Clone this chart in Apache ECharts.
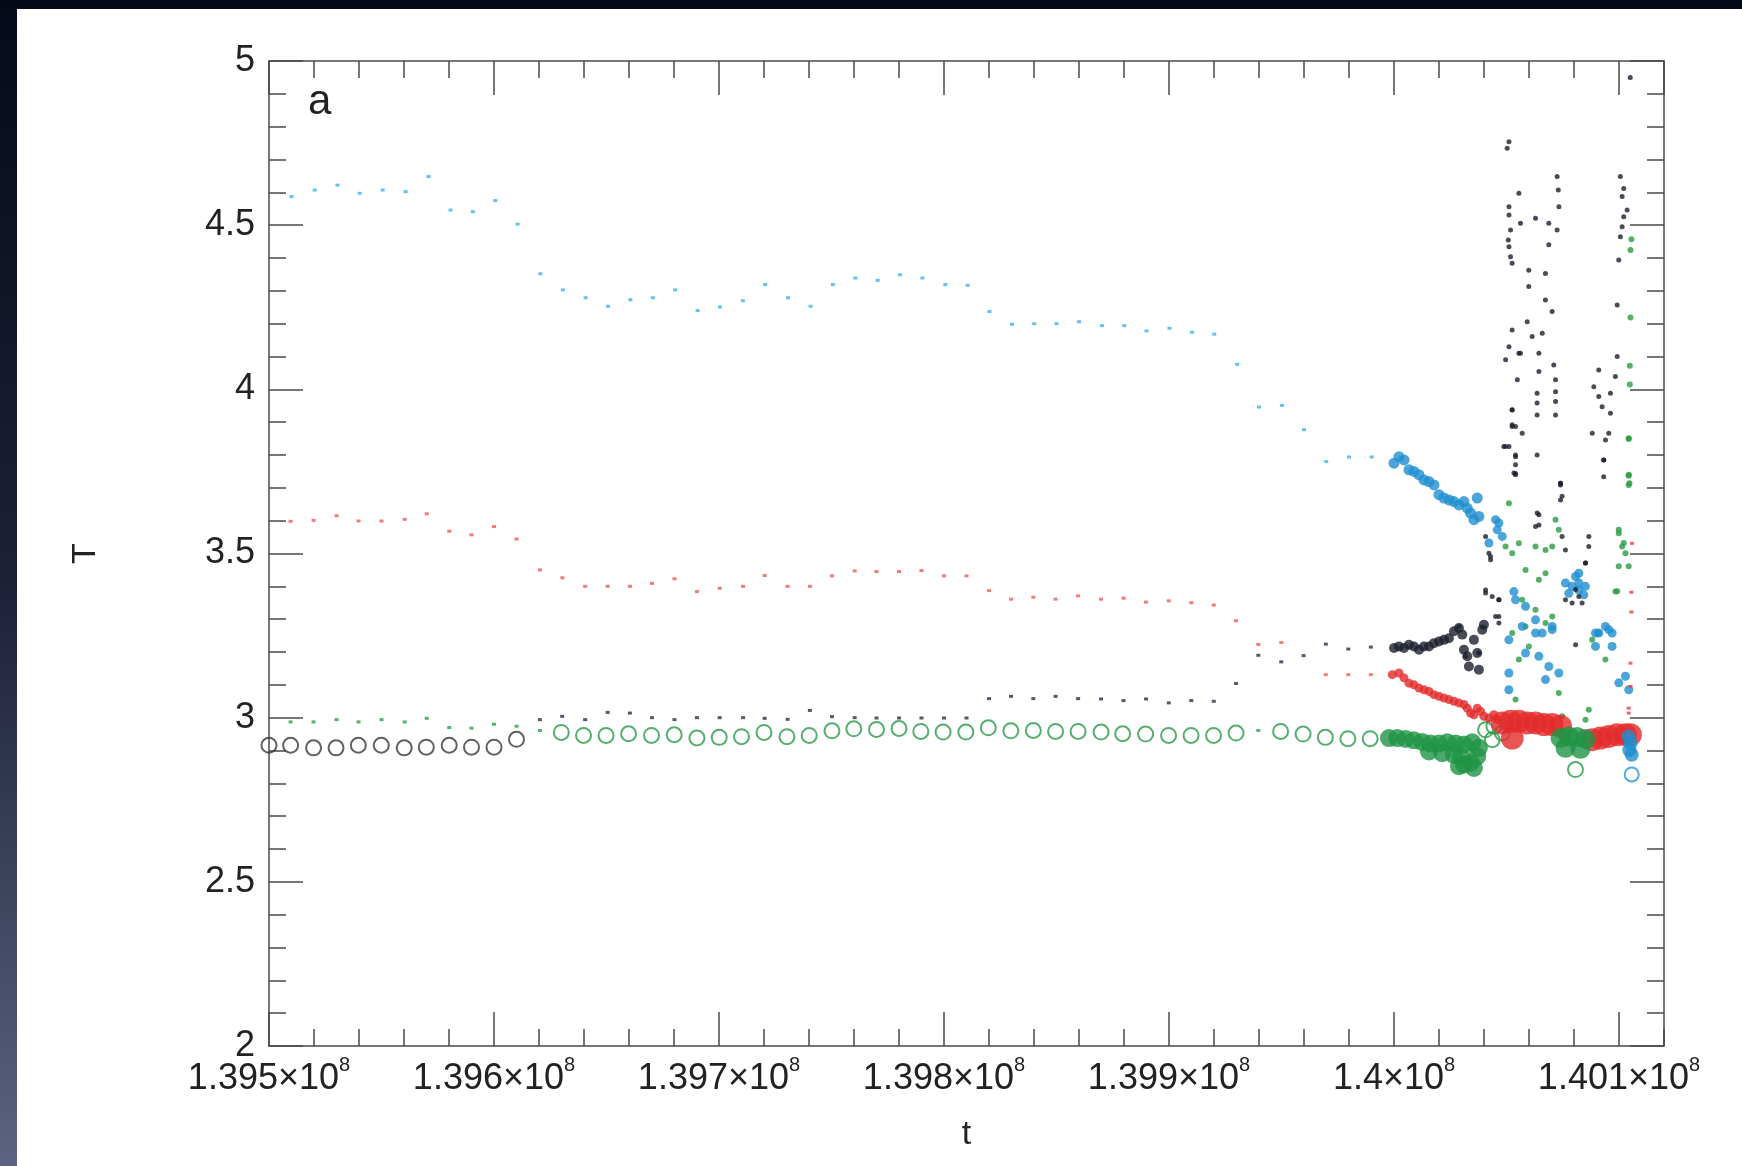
<!DOCTYPE html>
<html>
<head>
<meta charset="utf-8">
<title>T vs t</title>
<script src="https://cdn.jsdelivr.net/npm/echarts@6/dist/echarts.min.js"></script>
<style>
  html, body { margin: 0; padding: 0; background: #fff; }
  #chart { width: 1742px; height: 1166px; }
</style>
</head>
<body>
<div id="chart"></div>
<script>
const T0 = 139500000;

// sparse early samples
const blueSparse = [[10000,4.587],[20300,4.607],[30400,4.622],[40300,4.597],[50500,4.607],[60700,4.602],[70900,4.648],[80700,4.546],[90600,4.541],[100600,4.575],[110500,4.503],[120600,4.352],[130600,4.303],[140700,4.279],[150700,4.253],[160600,4.273],[170600,4.279],[180500,4.303],[190500,4.240],[200400,4.251],[210600,4.270],[220500,4.319],[230700,4.279],[240700,4.253],[250600,4.319],[260600,4.339],[270500,4.332],[280400,4.349],[290400,4.339],[300600,4.319],[310500,4.317],[320200,4.237],[330200,4.198],[340100,4.200],[350000,4.200],[360000,4.206],[370200,4.194],[380100,4.194],[390000,4.178],[400200,4.186],[410200,4.174],[420100,4.168],[430300,4.076],[440000,3.946],[450200,3.951],[460000,3.877],[469900,3.780],[480000,3.794],[490100,3.794]];
const redSparse = [[9600,3.598],[19800,3.601],[30000,3.615],[39800,3.599],[50000,3.599],[60300,3.604],[70100,3.621],[80100,3.568],[90000,3.557],[100000,3.582],[110000,3.544],[120400,3.450],[130400,3.426],[140500,3.400],[150500,3.400],[160400,3.400],[170200,3.409],[180200,3.423],[190200,3.384],[200300,3.394],[210700,3.400],[220300,3.433],[230500,3.400],[240400,3.400],[250200,3.432],[260300,3.447],[270000,3.445],[280000,3.445],[290000,3.448],[300000,3.432],[310000,3.432],[320000,3.387],[329800,3.361],[339700,3.367],[349600,3.361],[359600,3.371],[369800,3.361],[379800,3.364],[389800,3.352],[399900,3.356],[409900,3.350],[419900,3.343],[429800,3.295],[439700,3.223],[449900,3.229],[469700,3.131],[479700,3.131],[489700,3.131]];
const blackSparse = [[120400,2.994],[130300,3.004],[140500,2.994],[150500,3.016],[160400,3.014],[170200,3.000],[180200,2.994],[190200,3.000],[200300,3.000],[210700,3.000],[220300,2.998],[230500,2.995],[240400,3.022],[250200,3.003],[260300,3.000],[270000,2.999],[280000,2.999],[290000,2.999],[300000,2.999],[310000,2.999],[320000,3.058],[329800,3.065],[339700,3.058],[349600,3.065],[359600,3.058],[369800,3.057],[379800,3.052],[389800,3.057],[399900,3.045],[409900,3.052],[419900,3.050],[429800,3.104],[439700,3.190],[449900,3.170],[459800,3.189],[469700,3.224],[479700,3.209],[489700,3.215]];
const greenSparse = [[9600,2.987],[19800,2.987],[30000,2.994],[39800,2.987],[50000,2.994],[60300,2.987],[70100,2.998],[80100,2.970],[90000,2.968],[100000,2.980],[110000,2.974],[120400,2.961],[439700,2.961]];

// open circles
const blackRings = [[0,2.916],[9600,2.916],[19800,2.908],[29800,2.908],[39700,2.916],[49900,2.916],[60100,2.908],[69900,2.910],[80100,2.916],[90000,2.910],[100000,2.910],[110000,2.934]];
const greenRings = [[129900,2.955],[139800,2.946],[149800,2.946],[159800,2.951],[170000,2.946],[180100,2.948],[190200,2.938],[200100,2.940],[210000,2.942],[220000,2.955],[230200,2.942],[240100,2.946],[250200,2.960],[259900,2.966],[270000,2.964],[280000,2.967],[289700,2.958],[299600,2.956],[309700,2.956],[319700,2.969],[329700,2.960],[339700,2.961],[349600,2.958],[359600,2.958],[369800,2.956],[379400,2.951],[389600,2.950],[399800,2.946],[409800,2.946],[419800,2.946],[429800,2.953],[449600,2.958],[459600,2.950],[469500,2.940],[479500,2.936],[489400,2.936],[540700,2.963],[544400,2.974],[548100,2.953],[543660,2.933],[580660,2.842]];
const blueRings = [[605650,2.827]];

// dense late samples
const blueTrack = [[500000,3.775],[502220,3.795],[504440,3.785],[506660,3.755],[508880,3.750],[511100,3.740],[513320,3.724],[515540,3.719],[517760,3.709],[519980,3.679],[522200,3.669],[524420,3.663],[526640,3.658],[528860,3.648],[531080,3.658],[532560,3.638],[534040,3.623],[535520,3.603],[537000,3.669],[537740,3.613]];
const blueCloud = [[545140,3.603],[545880,3.572],[542180,3.532],[548100,3.552],[546620,3.593],[553280,3.384],[554020,3.359],[558460,3.339],[562900,3.298],[565860,3.258],[570300,3.278],[576220,3.410],[579180,3.400],[582140,3.410],[585100,3.400],[577700,3.379],[582140,3.389],[584360,3.374],[580660,3.430],[582140,3.440],[589540,3.258],[593980,3.278],[596940,3.258],[551060,3.237],[556980,3.278],[562900,3.258],[570300,3.268],[558460,3.197],[564380,3.187],[568820,3.156],[573260,3.136],[567340,3.116],[551060,3.136],[551060,3.085],[591020,3.258],[595460,3.268],[596940,3.217],[589540,3.217],[599900,3.106],[602860,3.126],[604340,3.085]];
const blueBlob = [[604170,2.943],[605200,2.923],[604600,2.901],[605650,2.887]];
const blackTrack = [[500000,3.212],[502220,3.217],[504440,3.212],[506660,3.222],[508880,3.217],[511100,3.207],[513320,3.217],[515540,3.217],[517760,3.227],[519980,3.232],[522200,3.237],[524420,3.242],[526640,3.263],[528860,3.273],[530340,3.253],[531080,3.207],[532560,3.187],[533300,3.156],[535520,3.237],[537000,3.197],[537740,3.146],[539220,3.268],[539960,3.283]];
const blackCloud = [[540700,3.552],[542180,3.501],[542920,3.481],[540700,3.389],[543660,3.369],[546620,3.359],[545140,3.308],[546620,3.288],[576220,3.359],[579180,3.349],[582140,3.369],[585100,3.471],[586580,3.521],[574000,3.714],[574000,3.663],[563640,3.623],[562900,3.582],[554020,3.795],[553280,3.745],[549580,3.826],[552540,3.892],[556980,3.866],[593240,3.785],[595460,3.866],
  [551100,4.754],[550300,4.734],[555500,4.597],[551100,4.556],[551100,4.531],[551800,4.485],[550800,4.455],[551100,4.434],[551800,4.404],[552500,4.384],[556200,4.506],[552500,4.181],[551100,4.130],[555500,4.110],[549600,4.090],[554800,4.029],[552500,3.937],[552500,3.887],[551100,3.826],[554000,3.800],[554000,3.744],
  [572500,4.648],[573000,4.607],[573300,4.556],[562900,4.521],[568800,4.506],[572500,4.485],[568800,4.440],[559900,4.363],[567300,4.353],[559900,4.313],[567300,4.272],[570300,4.237],[559200,4.206],[561400,4.161],[565900,4.171],[556200,4.110],[564400,4.110],[571000,4.074],[564400,4.054],[571800,4.029],[571800,3.993],[563600,3.988],[563600,3.958],[571800,3.963],[563600,3.922],[571800,3.922],[563600,3.800],[574000,3.714],
  [600600,4.648],[602100,4.612],[601400,4.587],[603600,4.546],[602100,4.526],[601400,4.495],[600600,4.465],[599900,4.394],[599200,4.257],[599200,4.100],[598400,4.039],[591000,4.059],[588800,4.008],[591000,3.978],[596200,3.988],[592500,3.947],[596200,3.927],[588100,3.866],[594000,3.846],[593200,3.785],[593200,3.734],
  [552500,3.938],[554000,3.887],[548800,3.826],[554000,3.770],[554000,3.740],[574000,3.709],[574700,3.674],[564400,3.618],[564400,3.587],[574700,3.552],[576200,3.511],[586600,3.552],[585100,3.471],[542900,3.491],[540700,3.380],[546600,3.359],[546600,3.308],[580700,3.222],[528900,3.278],[531800,3.187],[537700,3.197],[583600,3.349],[580700,3.390],[605000,4.950]];
const greenCloud = [[551060,3.653],[549580,3.521],[552540,3.501],[555500,3.531],[558460,3.450],[562900,3.521],[567340,3.511],[570300,3.521],[571780,3.603],[573260,3.572],[564380,3.420],[567340,3.440],[556980,3.359],[562900,3.329],[570300,3.308],[567340,3.288],[558460,3.278],[599900,3.562],[601380,3.521],[602860,3.501],[599900,3.461],[604340,3.851],[604340,3.740],[604640,3.714],[598420,3.384],[591020,3.258],
  [552540,3.258],[555500,3.177],[554020,3.055],[559940,3.217],[573260,3.075],[574740,3.004],[585100,2.994],[586580,3.024],[588060,3.237],[593980,3.177],
  [605500,4.457],[605100,4.424],[605100,4.219],[604800,4.072],[604800,4.015],[604300,3.849],[604300,3.737],[604300,3.709],[599900,3.572],[602100,3.532],[604300,3.461],[599200,3.385]];
const greenBlob = [[497780,2.938],[501480,2.938],[505180,2.935],[508880,2.931],[512580,2.926],[516280,2.921],[519980,2.921],[523680,2.925],[527380,2.921],[531080,2.918],[534780,2.925],[529600,2.882],[531080,2.857],[534040,2.862],[537000,2.882],[537740,2.908],[515540,2.897],[521460,2.892],[526640,2.887],[535520,2.847],[528860,2.852]];
const greenBlob2 = [[574000,2.938],[577700,2.943],[581400,2.941],[585100,2.935],[576220,2.908],[582880,2.905]];
const redTrack = [[499260,3.131],[502220,3.136],[504440,3.121],[506660,3.105],[508880,3.100],[511100,3.090],[513320,3.085],[515540,3.080],[517760,3.070],[519980,3.065],[522200,3.060],[524420,3.055],[526640,3.050],[528860,3.045],[531080,3.040],[532560,3.029],[534040,3.014],[535520,3.009],[537000,3.029],[538480,3.019],[539960,3.004],[542180,2.999],[544400,3.009],[545880,2.994]];
const redBand = [[548100,2.984],[551800,2.989],[555500,2.989],[559200,2.984],[562900,2.984],[566600,2.979],[570300,2.979],[574000,2.974],[552540,2.938],[588060,2.933],[591760,2.938],[595460,2.943],[599160,2.948],[602860,2.948],[605080,2.948]];
const redRight = [[605800,3.531],[605500,3.382],[605500,3.322],[605100,3.166],[605100,3.095],[604300,3.029],[604300,3.014]];

const FONT = '"Liberation Sans", Arial, Helvetica, sans-serif';
const axisGrey = '#4a4a4a';

function xLabel(v) {
  const s = String(parseFloat(((T0 + v) / 1e8).toFixed(3)));
  return '{m|' + s + '×10}{e|8}';
}

function dots(data, color, size, symbol) {
  return {
    type: 'scatter', data: data, symbol: symbol || 'circle', symbolSize: size,
    itemStyle: { color: color }, silent: true
  };
}

function rings(data, color, size) {
  return {
    type: 'scatter', data: data, symbol: 'circle', symbolSize: size,
    itemStyle: { color: 'rgba(0,0,0,0)', borderColor: color, borderWidth: 2 }, silent: true
  };
}

const xBase = {
  type: 'value', min: 0, max: 620000, splitLine: { show: false },
  axisLine: { show: true, onZero: false, lineStyle: { color: axisGrey, width: 1.5 } }
};
const majorTick = { show: true, inside: true, length: 34, lineStyle: { color: axisGrey, width: 1.5 } };
const minorTickX = { show: true, inside: true, length: 17, lineStyle: { color: axisGrey, width: 1.5 } };

const chart = echarts.init(document.getElementById('chart'));
chart.setOption({
  animation: false,
  backgroundColor: '#fff',
  textStyle: { fontFamily: FONT },
  grid: { left: 269, right: 78, top: 61, bottom: 120, containLabel: false, outerBoundsMode: 'none' },
  graphic: [
    { type: 'rect', left: 0, top: 0, z: 100, shape: { width: 17, height: 1166 },
      style: { fill: new echarts.graphic.LinearGradient(0, 0, 0, 1, [
        { offset: 0, color: '#060918' }, { offset: 0.5, color: '#1c2138' }, { offset: 1, color: '#5d6380' }]) } },
    { type: 'rect', left: 0, top: 0, z: 100, shape: { width: 1742, height: 9 }, style: { fill: '#060918' } },
    { type: 'text', x: 308, y: 102, z: 50,
      style: { text: 'a', font: '42px ' + FONT, fill: '#222', verticalAlign: 'middle' } }
  ],
  xAxis: [
    Object.assign({}, xBase, {
      position: 'bottom', interval: 100000, axisTick: majorTick,
      axisLabel: { show: true, margin: 9, showMaxLabel: false, formatter: xLabel,
        rich: {
          m: { fontSize: 36, color: '#222', fontFamily: FONT, lineHeight: 40, padding: [8, 0, 0, 0] },
          e: { fontSize: 20, color: '#222', fontFamily: FONT, lineHeight: 22, verticalAlign: 'top' }
        } },
      name: 't', nameLocation: 'middle', nameGap: 72,
      nameTextStyle: { fontSize: 34, color: '#222', fontFamily: FONT }
    }),
    Object.assign({}, xBase, {
      position: 'bottom', interval: 20000, axisLine: { show: false },
      axisTick: minorTickX, axisLabel: { show: false }
    }),
    Object.assign({}, xBase, {
      position: 'top', interval: 100000, axisTick: majorTick, axisLabel: { show: false }
    }),
    Object.assign({}, xBase, {
      position: 'top', interval: 20000, axisLine: { show: false },
      axisTick: minorTickX, axisLabel: { show: false }
    })
  ],
  yAxis: [
    {
      type: 'value', position: 'left', min: 2, max: 5, interval: 0.5, splitLine: { show: false },
      axisLine: { show: true, onZero: false, lineStyle: { color: axisGrey, width: 1.5 } },
      axisTick: majorTick,
      minorTick: { show: true, splitNumber: 5, length: 17, lineStyle: { color: axisGrey, width: 1.5 } },
      axisLabel: { fontSize: 36, color: '#222', margin: 14, fontFamily: FONT },
      name: 'T', nameLocation: 'middle', nameGap: 166, nameRotate: 90,
      nameTextStyle: { fontSize: 34, color: '#222', fontFamily: FONT }
    },
    {
      type: 'value', position: 'right', min: 2, max: 5, interval: 0.5, splitLine: { show: false },
      axisLine: { show: true, onZero: false, lineStyle: { color: axisGrey, width: 1.5 } },
      axisTick: majorTick,
      minorTick: { show: true, splitNumber: 5, length: 17, lineStyle: { color: axisGrey, width: 1.5 } },
      axisLabel: { show: false }
    }
  ],
  series: [
    dots(blueSparse, '#3fb2ea', [4, 3], 'rect'),
    dots(redSparse, '#ee5b5b', [4, 3], 'rect'),
    dots(blackSparse, '#283043', [4, 3], 'rect'),
    dots(greenSparse, '#2aa04c', [4, 3], 'rect'),
    rings(blackRings, '#3a3a3a', 15),
    rings(greenRings, '#2a9a48', 15),
    dots(greenCloud, '#2b9b43', 6),
    dots(blueCloud, '#1e8fd0', 9),
    dots(blackCloud, '#1b1f2d', 5),
    dots(blackTrack, '#1b1f2d', 10),
    dots(blueTrack, '#1e8fd0', 11),
    dots(redTrack, '#e32b2b', 9),
    dots(greenBlob, '#1f9345', 18),
    dots(redBand, '#e32b2b', 23),
    dots(greenBlob2, '#1f9345', 20),
    dots(blueBlob, '#1e8fd0', 14),
    dots(redRight, '#ee4040', [4, 3], 'rect'),
    rings(blueRings, '#2a95d5', 14)
  ]
});
</script>
</body>
</html>
